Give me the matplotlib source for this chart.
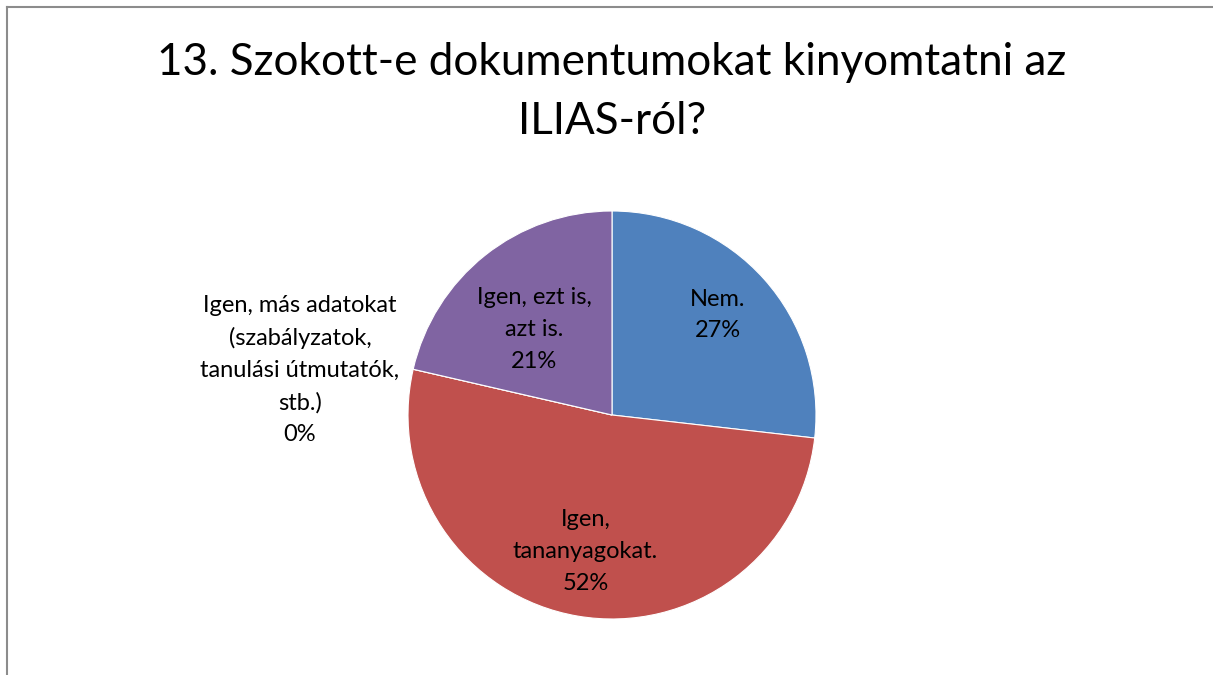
import matplotlib.pyplot as plt
from matplotlib.lines import Line2D

# survey answers (share of respondents, %)
answers = ["Nem.", "Igen,\ntananyagokat.", "Igen, más adatokat\n(szabályzatok,\ntanulási útmutatók,\nstb.)", "Igen, ezt is,\nazt is."]
shares = [26.8, 51.8, 0.0, 21.4]
colors = ['#4F81BD', '#C0504D', '#9BBB59', '#8064A2']
title = "13. Szokott-e dokumentumokat kinyomtatni az\nILIAS-ról?"

# label positions in pie units (radius = 1)
label_pos = [(0.52, 0.49), (-0.13, -0.67), (-1.53, 0.22), (-0.38, 0.42)]

plt.rcParams['font.family'] = ['Lato', 'DejaVu Sans']

W, H = 1213, 675
fig = plt.figure(figsize=(W / 100, H / 100), dpi=100)

# grey frame round the chart (top and left edges visible)
fig.add_artist(Line2D([7 / W, 7 / W], [0, 1 - 7 / H], color='#8c8c8c', lw=1.5))
fig.add_artist(Line2D([7 / W, 1], [1 - 7 / H, 1 - 7 / H], color='#8c8c8c', lw=1.5))

cx, cy, r = 612, 415, 204
ax = fig.add_axes([(cx - r) / W, (H - cy - r) / H, 2 * r / W, 2 * r / H])
wedges, _ = ax.pie(shares, colors=colors, startangle=90, counterclock=False,
                   radius=1, wedgeprops=dict(edgecolor='white', linewidth=0.8))
ax.set_xlim(-1, 1)
ax.set_ylim(-1, 1)
ax.set_aspect('equal')
ax.axis('off')

total = sum(shares)
for name, v, (x, y) in zip(answers, shares, label_pos):
    ax.text(x, y, "%s\n%d%%" % (name, round(v / total * 100)), ha='center', va='center',
            fontsize=17, linespacing=1.63, clip_on=False)

fig.text(cx / W, 1 - 92 / H, title, ha='center', va='center', fontsize=31.7, linespacing=1.55)

fig.savefig('out.png', dpi=100)
